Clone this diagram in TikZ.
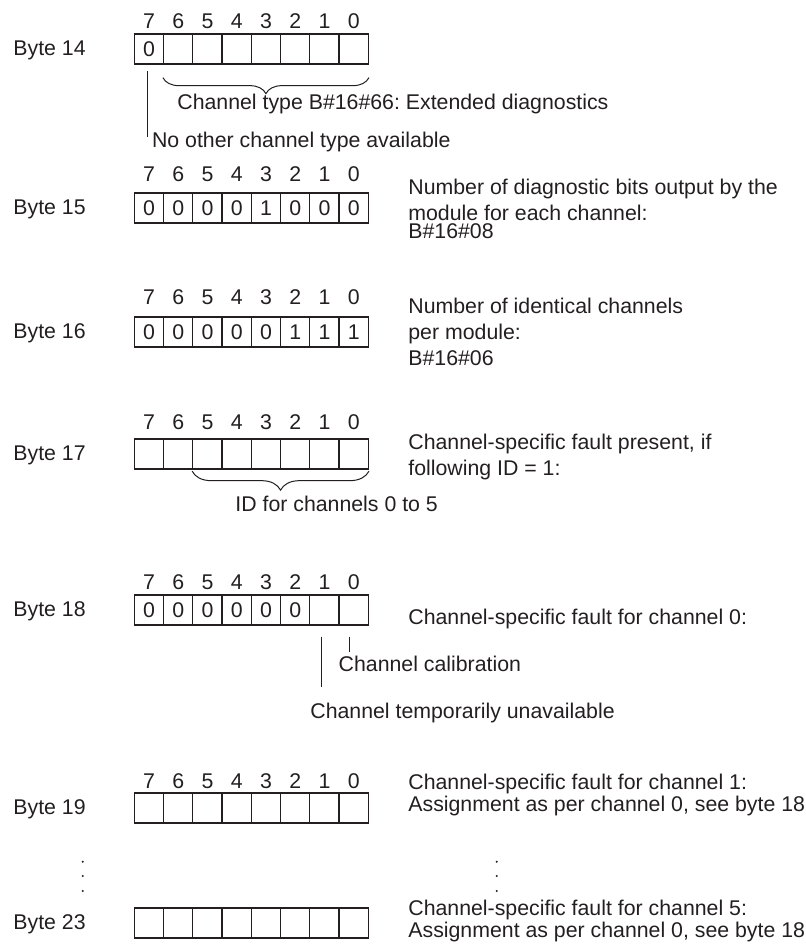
\documentclass[tikz,border=0pt]{standalone}
\usepackage{fontspec}
\setmainfont{Liberation Sans}
\usepackage{tikz}
\usetikzlibrary{calc,decorations.pathreplacing}
\definecolor{DiagInk}{HTML}{231F20}

\begin{document}
\frenchspacing
\begin{tikzpicture}[
  x=0.5pt,y=-0.5pt,
  line join=miter,
  every node/.style={font=\fontsize{10.65}{13}\selectfont,text=DiagInk,inner sep=0pt},
  bitcell/.style={draw=DiagInk,line width=.65pt,minimum width=14.625pt,
    minimum height=15pt},
  bitnum/.style={anchor=base},
  bitval/.style={anchor=center},
  bytelabel/.style={anchor=base west},
  note/.style={anchor=base west,align=left},
  pointer/.style={draw=DiagInk,line width=.5pt},
  bytebrace/.style={draw=DiagInk,line width=.5pt,decorate,
    decoration={brace,mirror,amplitude=#1}}
]
  \useasboundingbox (0,0) rectangle (806,947);
  \pgfmathsetmacro{\boxleft}{134.3}
  \pgfmathsetmacro{\cellw}{29.25}
  \pgfmathsetmacro{\cellh}{30}

  \foreach \byteno/\celltop in {14/34,15/193,16/317,17/439,18/595,19/793,23/908}{
    \node[bytelabel] (byte\byteno) at (13,\celltop+21.5) {Byte \byteno};
    \foreach \i in {0,...,7}{
      \pgfmathtruncatemacro{\bit}{7-\i}
      \node[bitcell] (b\byteno c\bit)
        at (\boxleft+\i*\cellw+0.5*\cellw,\celltop+0.5*\cellh) {};
    }
  }

  \foreach \byteno/\numbase in {14/28.3,15/181.7,16/304,17/429.3,18/589.3,19/788.5}{
    \foreach \bit in {0,...,7}{
      \node[bitnum] (n\byteno c\bit) at (b\byteno c\bit |- 0,\numbase) {\bit};
    }
  }

  \foreach \byteno/\vals in {14/{0},15/{0,0,0,0,1,0,0,0},16/{0,0,0,0,0,1,1,1},
      18/{0,0,0,0,0,0}}{
    \foreach \v [count=\i from 0] in \vals{
      \pgfmathtruncatemacro{\bit}{7-\i}
      \node[bitval] (v\byteno c\bit) at ($(b\byteno c\bit)+(0,0.5)$) {\v};
    }
  }

  \coordinate (typestart) at ($(b14c6.south west)+(0,13)$);
  \coordinate (typeend) at ($(b14c0.south east)+(0,13)$);
  \draw[bytebrace=8pt] (typestart) -- (typeend);
  \node[note] (chtype) at (177,109.3) {Channel type B\#16\#66: Extended diagnostics};

  \coordinate (nootherstart) at ($(b14c7.south)+(-1.2,6.7)$);
  \coordinate (nootherend) at (nootherstart |- 0,137);
  \draw[pointer] (nootherstart) -- (nootherend);
  \node[note] (noother) at (151.7,148) {No other channel type available};

  \node[note] (diagbits) at (408,238)
    {Number of diagnostic bits output by the\\module for each channel:\\[-4pt]B\#16\#08};
  \node[note] (identical) at (408,365)
    {Number of identical channels\\per module:\\B\#16\#06};
  \node[note] (faultpresent) at (408,475)
    {Channel-specific fault present, if\\following ID = 1:};

  \coordinate (idstart) at ($(b17c5.south west)+(0,1.5)$);
  \coordinate (idend) at ($(b17c0.south east)+(0,1.5)$);
  \draw[bytebrace=9.5pt] (idstart) -- (idend);
  \node[note] (idchannels) at (235,511.7) {ID for channels 0 to 5};

  \node[note] (fault0) at (408,624) {Channel-specific fault for channel 0:};
  \coordinate (calibstart) at ($(b18c0.south)+(-4.4,11)$);
  \coordinate (calibend) at (calibstart |- 0,652);
  \draw[pointer] (calibstart) -- (calibend);
  \node[note] (calib) at (338.3,671.7) {Channel calibration};
  \coordinate (tempstart) at ($(b18c1.south)+(-3.4,11)$);
  \coordinate (tempend) at (tempstart |- 0,687);
  \draw[pointer] (tempstart) -- (tempend);
  \node[note] (tempunavail) at (310,718) {Channel temporarily unavailable};

  \node[note] (fault1) at (408,811)
    {Channel-specific fault for channel 1:\\[-2pt]Assignment as per channel 0, see byte 18};
  \node[note] (fault5) at (408,937)
    {Channel-specific fault for channel 5:\\[-2pt]Assignment as per channel 0, see byte 18};

  \foreach \dotx in {82.7,496.7}{
    \foreach \doty in {861.7,876,891}{
      \fill[DiagInk] (\dotx,\doty) circle (1.1);
    }
  }
\end{tikzpicture}
\end{document}
